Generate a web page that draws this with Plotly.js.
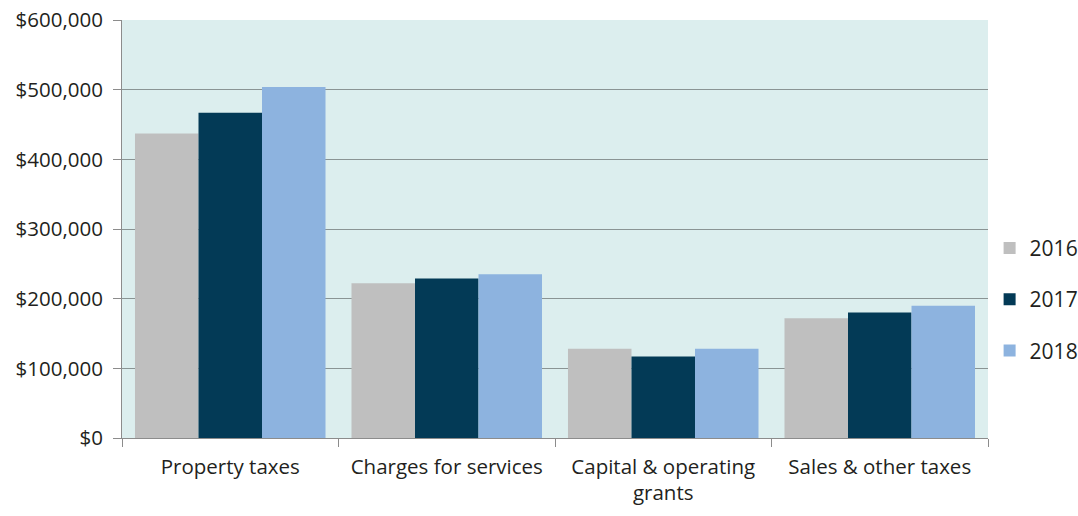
<!DOCTYPE html>
<html>
<head>
<meta charset="utf-8">
<script src="https://cdn.plot.ly/plotly-3.0.1.min.js"></script>
<style>html,body{margin:0;padding:0;background:#fff}#chart{width:1078px;height:516px}</style>
</head>
<body>
<div id="chart"></div>
<script>
const categories = ["Property taxes", "Charges for services", "Capital & operating<br>grants", "Sales & other taxes"];
const years = ["2016", "2017", "2018"];
const values2016 = [437000, 222000, 128000, 172000];
const values2017 = [467000, 229000, 117000, 180000];
const values2018 = [504000, 235000, 128000, 190000];
const colors = ["#bfbfbf", "#033a56", "#8db3df"];
const series = [values2016, values2017, values2018];

const traces = series.map((vals, i) => ({
  type: "bar",
  name: years[i],
  x: categories,
  y: vals,
  marker: {color: colors[i], line: {width: 0}},
  legendgroup: "g" + i,
  hoverinfo: "none"
}));

const layout = {
  width: 1078,
  height: 516,
  margin: {l: 122, r: 90, t: 20, b: 78, autoexpand: false},
  paper_bgcolor: "#ffffff",
  plot_bgcolor: "#dceeee",
  font: {family: "Open Sans, sans-serif", color: "#231f20", size: 20.5},
  barmode: "group",
  bargap: 0.12,
  bargroupgap: 0,
  showlegend: true,
  legend: {
    xref: "container", yref: "container",
    x: 0.918, xanchor: "left", y: 0.42, yanchor: "middle",
    font: {size: 21, color: "#231f20"},
    traceorder: "grouped",
    tracegroupgap: 21,
    bgcolor: "rgba(0,0,0,0)"
  },
  xaxis: {
    showline: true, linecolor: "#8c8c8c", linewidth: 1,
    ticks: "outside", tickson: "boundaries", ticklen: 8, tickcolor: "#8c8c8c",
    ticklabelstandoff: 10,
    showgrid: false, tickfont: {size: 20.5}, fixedrange: true
  },
  yaxis: {
    range: [0, 600000], dtick: 100000, tick0: 0,
    tickprefix: "$", tickformat: ",d",
    showline: true, linecolor: "#8c8c8c", linewidth: 1,
    ticks: "outside", ticklen: 8, tickcolor: "#8c8c8c",
    ticklabelstandoff: 6,
    showgrid: true, gridcolor: "#8a9494", gridwidth: 1,
    zeroline: false, tickfont: {size: 20.5}, fixedrange: true
  }
};

Plotly.newPlot("chart", traces, layout, {displayModeBar: false, staticPlot: true});
</script>
</body>
</html>
